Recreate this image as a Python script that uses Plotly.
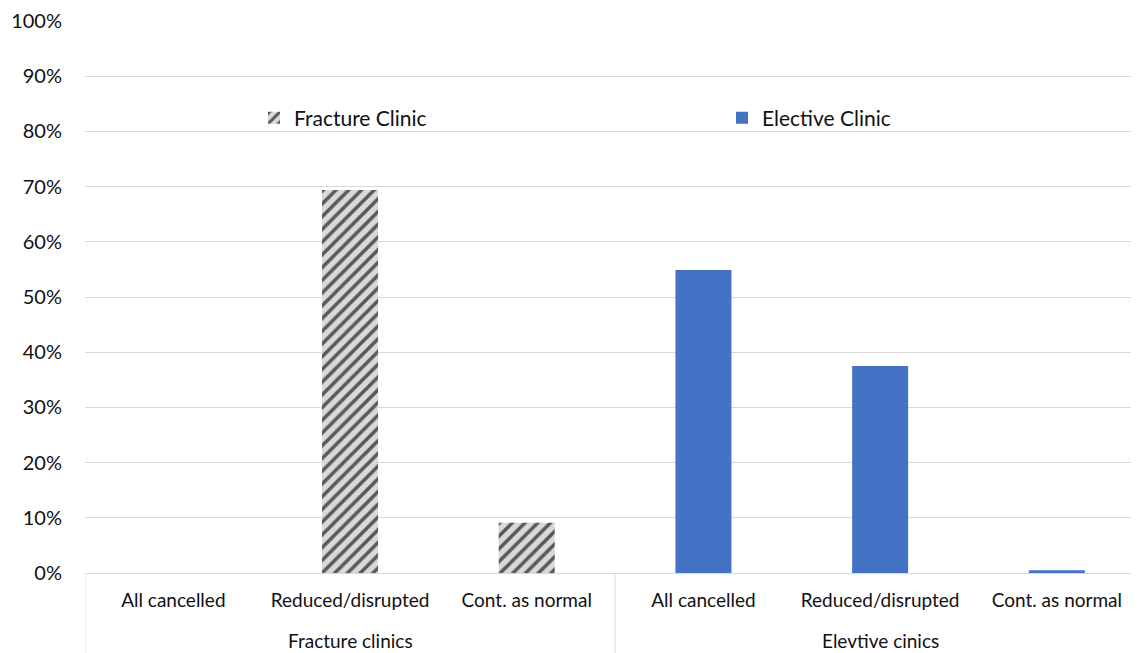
import plotly.graph_objects as go

groups = ["Fracture clinics", "Elevtive cinics"]
categories = ["All cancelled", "Reduced/disrupted", "Cont. as normal"]
fracture_values = [0.0, 0.694, 0.091]
elective_values = [0.549, 0.375, 0.005]
y_ticks = [0, 0.1, 0.2, 0.3, 0.4, 0.5, 0.6, 0.7, 0.8, 0.9, 1.0]

n = len(categories)
x_frac = list(range(n))
x_elec = [n + i for i in range(n)]
tick_vals = x_frac + x_elec
tick_text = categories * 2

fig = go.Figure()
fig.add_trace(go.Bar(
    name="Fracture Clinic", legend="legend",
    x=x_frac, y=fracture_values, width=0.317,
    marker=dict(color="#d9d9d9", line=dict(width=0),
                pattern=dict(shape="/", fgcolor="#595959", bgcolor="#d9d9d9",
                             size=9, solidity=0.4, fillmode="replace")),
))
fig.add_trace(go.Bar(
    name="Elective Clinic", legend="legend2",
    x=x_elec, y=elective_values, width=0.317,
    marker=dict(color="#4472c4", line=dict(width=0)),
))

# group labels and dividers below the category axis
for gi, g in enumerate(groups):
    center = gi * n + (n - 1) / 2
    fig.add_annotation(x=center, y=0, xref="x", yref="paper", yshift=-67,
                       text=g, showarrow=False, yanchor="middle",
                       font=dict(size=19))
for b in [-0.5, n - 0.5, 2 * n - 0.5]:
    fig.add_shape(type="line", xref="x", yref="paper", x0=b, x1=b, y0=0, y1=-0.2,
                  line=dict(color="#d9d9d9", width=1))

leg_common = dict(orientation="h", yanchor="middle", xanchor="left",
                  font=dict(size=21), bgcolor="rgba(0,0,0,0)")
# page body adds an 8px margin, so the figure is 8px smaller and margins shifted
fig.update_layout(
    width=1131, height=645,
    margin=dict(l=77, r=0, t=13, b=80, autoexpand=False),
    paper_bgcolor="white", plot_bgcolor="white",
    font=dict(family="Lato, Liberation Sans, sans-serif", size=19, color="#111111"),
    barmode="overlay",
    showlegend=True,
    legend=dict(x=(254 - 85) / 1054, y=0.824, **leg_common),
    legend2=dict(x=(722 - 85) / 1054, y=0.824, **leg_common),
)
fig.update_yaxes(range=[0, 1.0], tickvals=y_ticks, tickformat=".0%",
                 showgrid=True, gridcolor="#d9d9d9", gridwidth=1,
                 zeroline=False, showline=False, ticks="", ticklabelstandoff=22,
                 automargin=False, tickfont=dict(size=20))
fig.update_xaxes(range=[-0.5, 5.465], tickvals=tick_vals, ticktext=tick_text,
                 showline=True, linecolor="#d9d9d9", linewidth=1,
                 showgrid=False, zeroline=False, ticks="", ticklabelstandoff=10,
                 automargin=False, tickfont=dict(size=19))
fig.write_html("out.html")
